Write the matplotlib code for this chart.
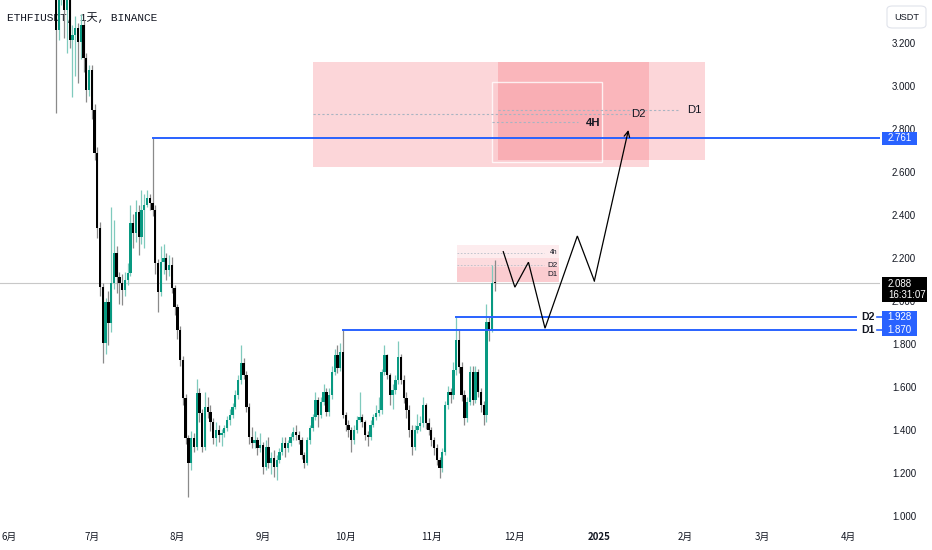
import matplotlib
matplotlib.use("Agg")
import matplotlib.pyplot as plt
from matplotlib.patches import Rectangle, FancyBboxPatch
import numpy as np
import pandas as pd

# ---------------- data ----------------
origin = pd.Timestamp("2024-06-01")
dates = pd.date_range("2024-06-17", "2024-11-24", freq="D")

closes = [
    3.590, 3.265, 3.428, 3.475, 3.358, 3.405, 3.219, 3.242, 3.275, 3.210,
    3.289, 3.135, 2.986, 3.079, 2.893, 2.693, 2.345, 2.070, 1.810, 2.000,
    1.903, 2.089, 2.228, 2.117, 2.089, 2.056, 2.103, 2.135, 2.368, 2.321,
    2.419, 2.303, 2.428, 2.452, 2.484, 2.461, 2.428, 2.182, 2.047, 2.186,
    2.205, 2.149, 2.172, 2.066, 1.977, 1.870, 1.731, 1.554, 1.368, 1.252,
    1.368, 1.326, 1.577, 1.484, 1.326, 1.512, 1.488, 1.442, 1.368, 1.405,
    1.381, 1.391, 1.414, 1.451, 1.475, 1.512, 1.568, 1.637, 1.717, 1.661,
    1.512, 1.372, 1.345, 1.358, 1.321, 1.335, 1.233, 1.326, 1.252, 1.275,
    1.233, 1.265, 1.302, 1.345, 1.321, 1.345, 1.372, 1.396, 1.381, 1.358,
    1.289, 1.252, 1.358, 1.414, 1.465, 1.544, 1.475, 1.535, 1.582, 1.488,
    1.568, 1.675, 1.754, 1.693, 1.767, 1.475, 1.428, 1.405, 1.358, 1.405,
    1.451, 1.465, 1.442, 1.381, 1.372, 1.428, 1.465, 1.484, 1.498, 1.675,
    1.754, 1.661, 1.568, 1.591, 1.637, 1.745, 1.637, 1.554, 1.498, 1.405,
    1.326, 1.405, 1.424, 1.437, 1.521, 1.437, 1.405, 1.358, 1.321, 1.265,
    1.228, 1.302, 1.521, 1.582, 1.568, 1.684, 1.824, 1.698, 1.568, 1.461,
    1.535, 1.675, 1.544, 1.675, 1.582, 1.521, 1.475, 1.907, 1.870, 2.089,
    2.088,
]
highs = [
    3.78, 3.62, 3.50, 3.55, 3.50, 3.47, 3.43, 3.29, 3.33, 3.30,
    3.34, 3.31, 3.16, 3.10, 3.10, 2.92, 2.72, 2.37, 2.09, 2.02,
    2.05, 2.442, 2.381, 2.26, 2.14, 2.13, 2.14, 2.18, 2.452, 2.41,
    2.475, 2.45, 2.52, 2.50, 2.52, 2.50, 2.761, 2.45, 2.20, 2.26,
    2.27, 2.23, 2.22, 2.21, 2.08, 1.99, 1.89, 1.75, 1.57, 1.38,
    1.40, 1.39, 1.64, 1.60, 1.50, 1.58, 1.56, 1.52, 1.46, 1.44,
    1.43, 1.41, 1.43, 1.47, 1.50, 1.53, 1.59, 1.66, 1.80, 1.74,
    1.68, 1.53, 1.42, 1.40, 1.37, 1.39, 1.35, 1.36, 1.37, 1.30,
    1.31, 1.29, 1.32, 1.37, 1.37, 1.36, 1.39, 1.42, 1.43, 1.40,
    1.37, 1.30, 1.37, 1.43, 1.48, 1.58, 1.56, 1.56, 1.62, 1.60,
    1.60, 1.70, 1.78, 1.80, 1.81, 1.870, 1.49, 1.45, 1.42, 1.43,
    1.47, 1.58, 1.48, 1.45, 1.40, 1.45, 1.48, 1.52, 1.56, 1.69,
    1.80, 1.76, 1.67, 1.62, 1.66, 1.82, 1.76, 1.66, 1.58, 1.52,
    1.43, 1.43, 1.48, 1.47, 1.56, 1.53, 1.46, 1.42, 1.37, 1.34,
    1.28, 1.32, 1.54, 1.61, 1.60, 1.72, 1.928, 1.87, 1.72, 1.59,
    1.56, 1.70, 1.70, 1.70, 1.69, 1.60, 1.54, 1.99, 1.93, 2.17,
    2.195,
]
lows = [
    3.52, 2.879, 3.22, 3.38, 3.23, 3.16, 3.18, 2.954, 3.05, 3.02,
    3.13, 3.07, 2.93, 2.96, 2.85, 2.66, 2.30, 2.03, 1.717, 1.76,
    1.80, 1.86, 2.06, 2.04, 1.99, 1.986, 2.03, 2.08, 2.12, 2.25,
    2.28, 2.22, 2.27, 2.25, 2.44, 2.43, 2.40, 2.13, 1.954, 2.03,
    2.13, 2.10, 2.12, 2.04, 1.94, 1.83, 1.70, 1.52, 1.34, 1.093,
    1.22, 1.30, 1.31, 1.44, 1.30, 1.31, 1.46, 1.40, 1.34, 1.33,
    1.35, 1.33, 1.37, 1.40, 1.43, 1.46, 1.50, 1.55, 1.62, 1.64,
    1.49, 1.34, 1.32, 1.32, 1.29, 1.30, 1.20, 1.22, 1.23, 1.20,
    1.186, 1.17, 1.25, 1.29, 1.28, 1.30, 1.33, 1.36, 1.36, 1.34,
    1.27, 1.23, 1.24, 1.34, 1.40, 1.45, 1.42, 1.46, 1.52, 1.47,
    1.47, 1.55, 1.66, 1.67, 1.68, 1.46, 1.40, 1.37, 1.302, 1.34,
    1.39, 1.44, 1.42, 1.36, 1.33, 1.36, 1.42, 1.45, 1.47, 1.48,
    1.66, 1.64, 1.52, 1.50, 1.57, 1.62, 1.62, 1.53, 1.46, 1.37,
    1.29, 1.31, 1.39, 1.40, 1.42, 1.41, 1.38, 1.33, 1.29, 1.24,
    1.181, 1.21, 1.29, 1.50, 1.53, 1.55, 1.66, 1.67, 1.54, 1.43,
    1.44, 1.52, 1.52, 1.53, 1.56, 1.49, 1.43, 1.44, 1.82, 1.86,
    2.05,
]
first_open = 3.70
opens = [first_open] + closes[:-1]

price_ticks = [1.0, 1.2, 1.4, 1.6, 1.8, 2.0, 2.2, 2.4, 2.6, 2.8, 3.0, 3.2]
month_ticks = pd.to_datetime(["2024-06-01", "2024-07-01", "2024-08-01", "2024-09-01",
                              "2024-10-01", "2024-11-01", "2024-12-01", "2025-01-01",
                              "2025-02-01", "2025-03-01", "2025-04-01"])
month_labels = ["6月", "7月", "8月", "9月", "10月", "11月", "12月", "2025", "2月", "3月", "4月"]

last_price = 2.088
countdown = "16:31:07"
level_top = 2.761
level_top_start = pd.Timestamp("2024-07-23")
level_d2 = 1.928
level_d2_start = pd.Timestamp("2024-11-10")
level_d1 = 1.870
level_d1_start = pd.Timestamp("2024-09-30")

# supply zones (start date, end date, low, high)
zone_D2 = ("2024-09-19", "2025-01-19", 2.628, 3.117)
zone_D1 = ("2024-11-25", "2025-02-08", 2.661, 3.117)
zone_4H = ("2024-11-23", "2025-01-02", 2.652, 3.024)
mid_D2 = ("2024-09-19", "2025-01-12", 2.875)
mid_D1 = ("2024-11-25", "2025-01-30", 2.891)
mid_4H = ("2024-11-23", "2024-12-24", 2.838)

# small zones near price
small_x = ("2024-11-10", "2024-12-17")
small_4h = (2.093, 2.265)
small_D2 = (2.093, 2.205)
small_D1 = (2.093, 2.163)
small_mid_4h = 2.229
small_mid_D2 = 2.172
small_text_D1 = 2.128

# projected path
path_dates = pd.to_datetime(["2024-11-27 02:00", "2024-12-01 07:00", "2024-12-06 05:00",
                             "2024-12-12 05:00", "2024-12-23 22:00", "2024-12-30 02:00",
                             "2025-01-11 10:00"])
path_prices = [2.234, 2.069, 2.185, 1.878, 2.307, 2.098, 2.800]


def dnum(ts):
    return (pd.Timestamp(ts) - origin) / pd.Timedelta(days=1)


# ---------------- figure ----------------
W, H = 932, 550
PLOT_W, PLOT_H = 880, 525
fig = plt.figure(figsize=(W / 100, H / 100), dpi=100)
fig.patch.set_facecolor("white")
ax = fig.add_axes([0, (H - PLOT_H) / H, PLOT_W / W, PLOT_H / H])
ax.set_facecolor("white")
for s in ax.spines.values():
    s.set_visible(False)
ax.set_xticks([])
ax.set_yticks([])

PX_PER_DAY = 2.76
PX_PER_UNIT = 215.0
ax.set_xlim(-9 / PX_PER_DAY, (PLOT_W - 9) / PX_PER_DAY)
ax.set_ylim(1.0 - 8 / PX_PER_UNIT, 1.0 + 517 / PX_PER_UNIT)

x = np.array([dnum(d) for d in dates])
o = np.array(opens); c = np.array(closes); hi = np.array(highs); lo = np.array(lows)
up = c >= o

UP = "#089981"
ax.vlines(x[up], lo[up], hi[up], color="#7fcabd", lw=0.9, zorder=3)
ax.vlines(x[~up], lo[~up], hi[~up], color="#8a8a8a", lw=0.9, zorder=3)
body_bot = np.minimum(o, c)
body_h = np.maximum(np.abs(c - o), 0.005)
ax.bar(x[up], body_h[up], bottom=body_bot[up], width=0.84, color=UP, linewidth=0, zorder=4)
ax.bar(x[~up], body_h[~up], bottom=body_bot[~up], width=0.84, color="black", linewidth=0, zorder=4)

# title (under candles)
ax.text(7 / PLOT_W, 1 - 18 / PLOT_H, "ETHFIUSDT, 1天, BINANCE", transform=ax.transAxes,
        family=["Liberation Mono", "Noto Sans CJK SC"], fontsize=8.0, color="#131722",
        va="center", ha="left", zorder=2)

# current price line
ax.axhline(last_price, color="#c8c8c8", lw=0.8, zorder=2)

RED = "#F23645"
BLUE = "#2962FF"


def zone(z, alpha, zorder=1, edge=None):
    x0, x1 = dnum(z[0]), dnum(z[1])
    ax.add_patch(Rectangle((x0, z[2]), x1 - x0, z[3] - z[2], facecolor=RED, alpha=alpha,
                           edgecolor="none", zorder=zorder))
    if edge:
        ax.add_patch(Rectangle((x0, z[2]), x1 - x0, z[3] - z[2], facecolor="none",
                               edgecolor=edge, lw=1.0, alpha=0.8, zorder=zorder + 0.1))


zone(zone_D2, 0.20)
zone(zone_D1, 0.20)
zone(zone_4H, 0.06, edge="white")

dot_kw = dict(color="#a9b4c2", lw=0.8, ls=(0, (2, 2)), zorder=1.5)
for m in (mid_D2, mid_D1, mid_4H):
    ax.plot([dnum(m[0]), dnum(m[1])], [m[2], m[2]], **dot_kw)
lab_font = ["Liberation Sans", "DejaVu Sans"]
ax.text(dnum(mid_D2[1]) + 3.0, mid_D2[2], "D2", fontsize=8.2, family=lab_font, color="#131722",
        va="center", ha="center", zorder=6)
ax.text(dnum(mid_D1[1]) + 5.4, mid_D1[2], "D1", fontsize=8.2, family=lab_font, color="#131722",
        va="center", ha="center", zorder=6)
ax.text(dnum(mid_4H[1]) + 5.7, mid_4H[2] - 0.004, "4H", fontsize=8.2, family=lab_font,
        fontweight="bold", color="#131722", va="center", ha="center", zorder=6)

# small zones
sx0, sx1 = dnum(small_x[0]) + 0.4, dnum(small_x[1]) + 0.3
for lo_, hi_ in (small_4h, small_D2, small_D1):
    ax.add_patch(Rectangle((sx0, lo_), sx1 - sx0, hi_ - lo_, facecolor=RED, alpha=0.09,
                           edgecolor="none", zorder=1))
for lvl in (small_mid_4h, small_mid_D2):
    ax.plot([sx0, sx1 - 5.5], [lvl, lvl], color="#b9bfc9", lw=0.6, ls=(0, (2, 2)), zorder=1.5)
ax.text(sx1 - 0.5, small_mid_4h, "4h", fontsize=4.8, family=lab_font, color="#131722",
        ha="right", va="center", zorder=6)
ax.text(sx1 - 0.5, small_mid_D2, "D2", fontsize=5.8, family=lab_font, color="#131722",
        ha="right", va="center", zorder=6)
ax.text(sx1 - 0.5, small_text_D1, "D1", fontsize=5.8, family=lab_font, color="#131722",
        ha="right", va="center", zorder=6)

# blue levels
ax.plot([dnum(level_top_start), ax.get_xlim()[1]], [level_top, level_top], color=BLUE, lw=1.4, zorder=7)
right_end = (856 - 9) / PX_PER_DAY
for start, lvl in ((level_d2_start, level_d2), (level_d1_start, level_d1)):
    ax.plot([dnum(start), right_end], [lvl, lvl], color=BLUE, lw=1.4, zorder=7)

# projected path
pd_x = [dnum(d) for d in path_dates]
ax.plot(pd_x[:-1], path_prices[:-1], color="black", lw=0.9, zorder=8, solid_joinstyle="miter")
ax.annotate("", xy=(pd_x[-1], path_prices[-1]), xytext=(pd_x[-2], path_prices[-2]),
            arrowprops=dict(arrowstyle="->", color="black", lw=0.9, shrinkA=0, shrinkB=0,
                            mutation_scale=10), zorder=8)

# ---------------- right price scale ----------------
yt = ax.get_yaxis_transform()
ax_x = lambda px: px / PLOT_W
axis_font = ["Liberation Sans", "DejaVu Sans"]
for p in price_ticks:
    ax.text(ax_x(904), p, f"{p:.3f}", transform=yt, fontsize=7.0, family=axis_font,
            color="#131722", ha="center", va="center", clip_on=False, zorder=5)

for lvl, name in ((level_d2, "D2"), (level_d1, "D1")):
    ax.text(ax_x(868), lvl, name, transform=yt, fontsize=7.6, family=axis_font, fontweight="bold",
            color="#131722", ha="center", va="center", clip_on=False, zorder=9)
    ax.plot([ax_x(877), ax_x(882)], [lvl, lvl], transform=yt, color=BLUE, lw=1.2,
            clip_on=False, zorder=9)

box_h = 13 / PX_PER_UNIT
for lvl in (level_top, level_d2, level_d1):
    ax.add_patch(Rectangle((ax_x(882), lvl - box_h / 2), ax_x(35), box_h, transform=yt,
                           facecolor=BLUE, edgecolor="none", clip_on=False, zorder=10))
    ax.text(ax_x(899.5), lvl, f"{lvl:.3f}", transform=yt, fontsize=7.0, family=axis_font,
            color="white", ha="center", va="center", clip_on=False, zorder=11)

# last price box (covers the upper half of the 2.000 tick label as in the reference)
top_p = last_price + 6 / PX_PER_UNIT
bot_p = last_price - 19 / PX_PER_UNIT
ax.add_patch(Rectangle((ax_x(882), bot_p), ax_x(45), top_p - bot_p, transform=yt,
                       facecolor="black", edgecolor="none", clip_on=False, zorder=10))
ax.text(ax_x(888), last_price - 0.5 / PX_PER_UNIT, f"{last_price:.3f}", transform=yt, fontsize=7.0,
        family=axis_font, color="white", ha="left", va="center", clip_on=False, zorder=11)
ax.text(ax_x(888), last_price - 12 / PX_PER_UNIT, countdown, transform=yt, fontsize=7.0,
        family=axis_font, color="white", ha="left", va="center", clip_on=False, zorder=11)

# USDT box
fig.patches.append(FancyBboxPatch((887 / W, 1 - 28 / H), 39 / W, 22 / H,
                                  boxstyle="round,pad=0,rounding_size=0.006",
                                  transform=fig.transFigure, facecolor="white",
                                  edgecolor="#e0e3eb", lw=0.8))
fig.text(906.5 / W, 1 - 17 / H, "USDT", fontsize=6.6, family=axis_font, color="#131722",
         ha="center", va="center")

# ---------------- time axis ----------------
xt = ax.get_xaxis_transform()
for t, lab in zip(month_ticks, month_labels):
    ax.text(dnum(t), -11.5 / PLOT_H, lab, transform=xt, fontsize=7.0,
            family=["Noto Sans CJK SC", "DejaVu Sans"], color="#131722",
            fontweight="bold" if lab == "2025" else "normal",
            ha="center", va="center", clip_on=False)

fig.savefig("out.png", dpi=100, facecolor="white")
